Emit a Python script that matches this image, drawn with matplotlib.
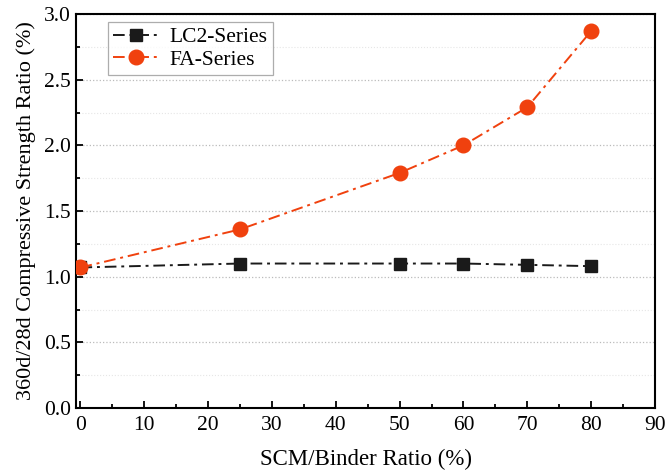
import matplotlib.pyplot as plt
from matplotlib.ticker import MultipleLocator

plt.rcParams['font.family'] = ['Liberation Serif', 'DejaVu Serif']

# data
scm_ratio = [0, 25, 50, 60, 70, 80]
lc2_series = [1.07, 1.10, 1.10, 1.10, 1.09, 1.08]
fa_series = [1.07, 1.36, 1.79, 2.00, 2.29, 2.87]

fig = plt.figure(figsize=(6.65, 4.71), dpi=100)
ax = fig.add_axes([76 / 665, 1 - 408 / 471, (655 - 76) / 665, (408 - 14) / 471])

ax.plot(scm_ratio, lc2_series, linestyle=(0, (6, 2.5, 1.5, 2.5)), color='#1a1a1a', marker='s',
        markersize=9, linewidth=1.4, label='LC2-Series', zorder=3)
ax.plot(scm_ratio, fa_series, linestyle=(0, (6, 2.5, 1.5, 2.5)), color='#f0410e', marker='o',
        markersize=10.5, linewidth=1.4, label='FA-Series', zorder=4)

ax.set_xlim(-0.7, 90)
ax.set_ylim(0, 3.0)
ax.xaxis.set_major_locator(MultipleLocator(10))
ax.xaxis.set_minor_locator(MultipleLocator(5))
ax.yaxis.set_major_locator(MultipleLocator(0.5))
ax.yaxis.set_minor_locator(MultipleLocator(0.25))
ax.yaxis.set_major_formatter(plt.FormatStrFormatter('%.1f'))

ax.grid(True, which='major', axis='y', linestyle=':', color='#bbbbbb', linewidth=0.9)
ax.grid(True, which='minor', axis='y', linestyle=':', color='#e6e6e6', linewidth=0.8)
ax.set_axisbelow(True)

ax.tick_params(which='both', direction='in', labelsize=15.5, width=1.3)
ax.tick_params(which='major', length=5)
ax.tick_params(which='minor', length=3)
ax.tick_params(axis='x', pad=6)
for s in ax.spines.values():
    s.set_linewidth(1.5)

ax.set_xlabel('SCM/Binder Ratio (%)', fontsize=16.5, labelpad=10)
ax.set_ylabel('360d/28d Compressive Strength Ratio (%)', fontsize=16, labelpad=6)

leg = ax.legend(loc='upper left', bbox_to_anchor=(0.055, 0.98), borderaxespad=0,
                fontsize=15.5, frameon=True, fancybox=False, edgecolor='#999999',
                handlelength=2.1, borderpad=0.25, labelspacing=0.1, handletextpad=0.5)
leg.get_frame().set_linewidth(0.9)

fig.savefig('out.png', dpi=100)
